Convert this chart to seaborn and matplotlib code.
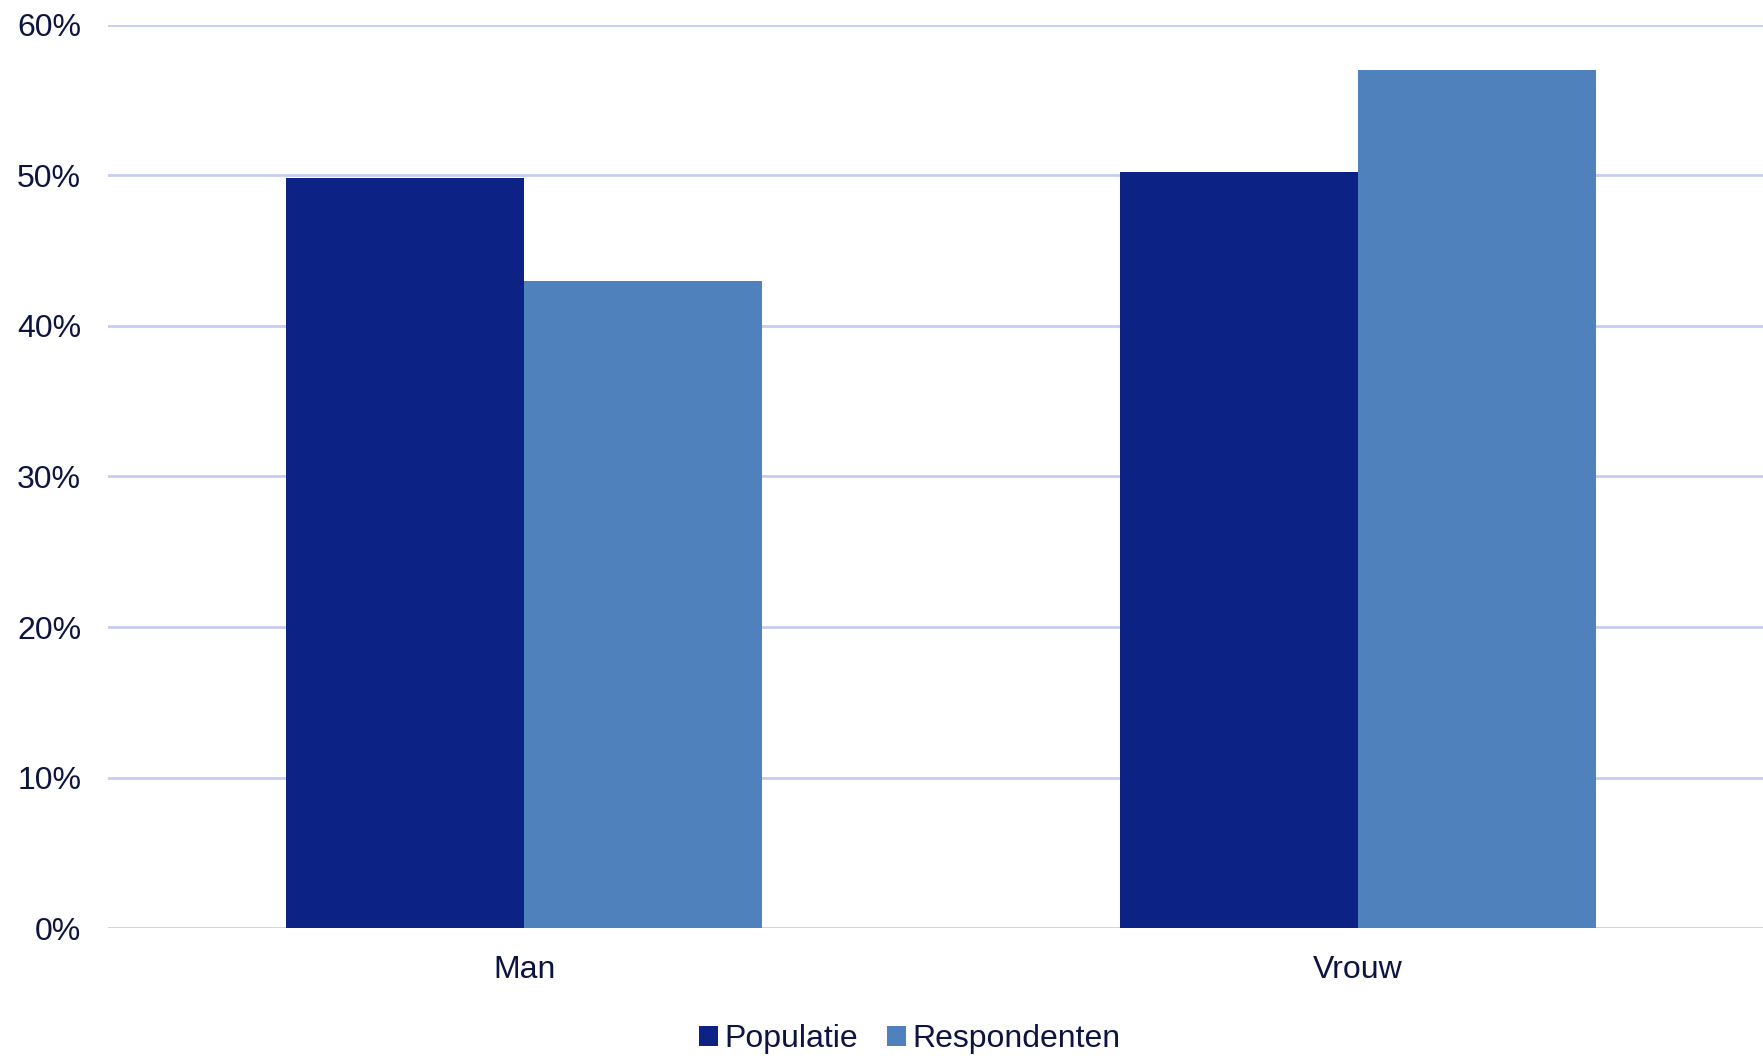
import pandas as pd
import matplotlib
matplotlib.use("Agg")
import matplotlib.pyplot as plt
import seaborn as sns
from matplotlib.ticker import FuncFormatter

# data
categories = ["Man", "Vrouw"]
series = ["Populatie", "Respondenten"]
populatie = [49.8, 50.2]
respondenten = [43.0, 57.0]
colors = ["#0c2284", "#4f81bd"]

df = pd.DataFrame({
    "geslacht": categories * 2,
    "groep": [series[0]] * 2 + [series[1]] * 2,
    "pct": populatie + respondenten,
})

sns.set_style("white")
plt.rcParams["font.family"] = ["Liberation Sans", "DejaVu Sans"]
text_color = "#0d1440"

fig = plt.figure(figsize=(17.63, 10.56), dpi=100)
ax = fig.add_axes([0.061, 0.121, 0.9458, 0.8556])

sns.barplot(data=df, x="geslacht", y="pct", hue="groep", palette=colors,
            width=0.571, gap=0, saturation=1, linewidth=0, ax=ax)

ax.set_ylim(0, 60)
ax.set_xlim(-0.5, 1.5)
ax.set_yticks(range(0, 61, 10))
ax.yaxis.set_major_formatter(FuncFormatter(lambda v, p: f"{v:.0f}%"))
ax.grid(axis="y", color="#c5cdf5", linewidth=2)
ax.set_axisbelow(True)
for s in ax.spines.values():
    s.set_visible(False)
ax.tick_params(axis="both", length=0, labelsize=23, colors=text_color)
ax.tick_params(axis="y", pad=19)
ax.tick_params(axis="x", pad=19)
ax.set_xlabel("")
ax.set_ylabel("")

ax.legend_.remove()
handles, labels = ax.get_legend_handles_labels()
fig.legend(handles, labels, loc="center", bbox_to_anchor=(0.516, 0.016),
           ncol=2, frameon=False, fontsize=23, labelcolor=text_color,
           handlelength=0.6, handleheight=0.6, handletextpad=0.2,
           columnspacing=0.9)

fig.savefig("out.png", dpi=100)
